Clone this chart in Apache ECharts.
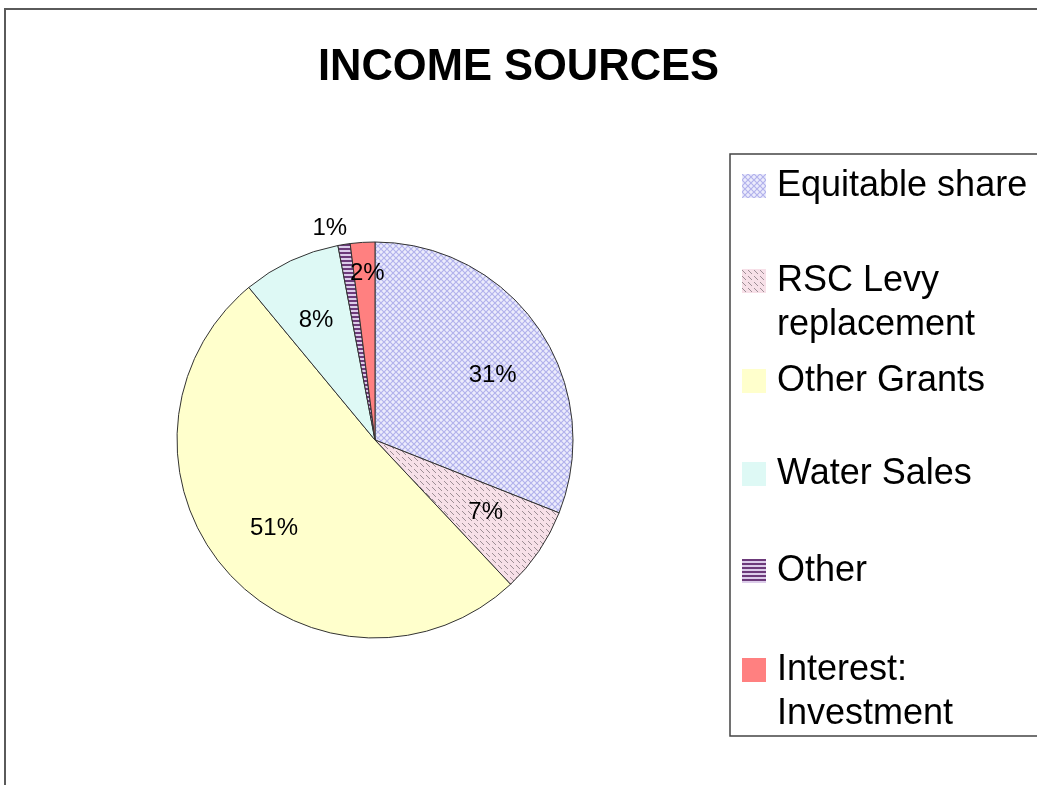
<!DOCTYPE html>
<html>
<head>
<meta charset="utf-8">
<script src="https://cdn.jsdelivr.net/npm/echarts@6/dist/echarts.min.js"></script>
<style>
  html, body { margin: 0; padding: 0; background: #ffffff; }
  #chart { width: 1037px; height: 785px; }
</style>
</head>
<body>
<div id="chart"></div>
<script>
// Income sources, share of total (%)
const categories = [
  'Equitable share',
  'RSC Levy\nreplacement',
  'Other Grants',
  'Water Sales',
  'Other',
  'Interest:\nInvestment'
];
const shares = [31, 7, 51, 8, 1, 2];
const titleText = 'INCOME SOURCES';

const FONT = '"Liberation Sans", Arial, sans-serif';

// small repeating tiles used as slice fills
function tile(w, h, draw) {
  const c = document.createElement('canvas');
  c.width = w; c.height = h;
  draw(c.getContext('2d'), w, h);
  return { image: c, repeat: 'repeat' };
}

const fills = [
  // lavender lattice
  tile(6, 6, (g, w, h) => {
    g.fillStyle = '#ececfc'; g.fillRect(0, 0, w, h);
    g.strokeStyle = '#b2b2ec'; g.lineWidth = 1.2;
    g.beginPath();
    g.moveTo(0, 0); g.lineTo(w, h);
    g.moveTo(w, 0); g.lineTo(0, h);
    g.stroke();
  }),
  // pink with short diagonal dashes
  tile(6, 6, (g, w, h) => {
    g.fillStyle = '#f7e0e8'; g.fillRect(0, 0, w, h);
    g.strokeStyle = '#9d8e95'; g.lineWidth = 1;
    g.beginPath();
    g.moveTo(0, 1); g.lineTo(4, 5);
    g.stroke();
  }),
  '#ffffcc',
  '#def9f5',
  // purple horizontal stripes
  tile(4, 4, (g, w, h) => {
    g.fillStyle = '#dccdea'; g.fillRect(0, 0, w, h);
    g.fillStyle = '#6c3a7a'; g.fillRect(0, 0, w, 2);
  }),
  '#ff8080'
];

const chart = echarts.init(document.getElementById('chart'), null, { renderer: 'canvas' });

const CENTER = [375, 440];
const R = 198;

// small nudges for individual percentage labels [dx, dy]
const labelNudge = [[3, 13], [-4, -6], [3, -3], [0, 6], [10, -4], [1, -28]];

const mainData = categories.map((name, i) => {
  const item = { name: name, value: shares[i], itemStyle: { color: fills[i] } };
  if (shares[i] <= 1) {
    item.label = { show: true, position: 'outside' };
    item.labelLine = { show: false, length: 12, length2: 0 };
  }
  return item;
});

const labelData = categories.map((name, i) => ({
  name: name,
  value: shares[i],
  label: { show: shares[i] > 1 }
}));

function nudge(p) {
  const n = labelNudge[p.dataIndex] || [0, 0];
  return { dx: n[0], dy: n[1] };
}

// legend entries, one block each, inside a framed box
const legendTops = [164, 215, 359, 452, 549, 604];
const legends = categories.map((name, i) => {
  const twoLine = name.indexOf('\n') >= 0;
  return {
    left: 742,
    top: legendTops[i],
    orient: 'vertical',
    padding: 0,
    icon: 'rect',
    itemWidth: 24,
    itemHeight: 24,
    selectedMode: false,
    itemStyle: { borderWidth: 0 },
    // two-line names start level with the swatch
    formatter: twoLine ? (n) => '\n' + n : (n) => n,
    textStyle: { fontFamily: FONT, fontSize: 36, lineHeight: 44, color: '#000', padding: [0, 0, 0, 6] },
    data: [name]
  };
});

chart.setOption({
  backgroundColor: '#ffffff',
  animation: false,
  title: {
    text: titleText,
    left: 'center',
    top: 41,
    textStyle: { fontFamily: FONT, fontSize: 43.5, fontWeight: 'bold', color: '#000' }
  },
  graphic: [
    {
      type: 'rect', silent: true, z: -10,
      shape: { x: 5, y: 9, width: 1200, height: 900 },
      style: { fill: 'none', stroke: '#5a5a5a', lineWidth: 2 }
    },
    {
      type: 'rect', silent: true, z: -10,
      shape: { x: 730, y: 154, width: 400, height: 582 },
      style: { fill: '#ffffff', stroke: '#444444', lineWidth: 1.5 }
    }
  ],
  legend: legends,
  series: [
    {
      type: 'pie',
      center: CENTER,
      radius: R,
      startAngle: 90,
      clockwise: true,
      avoidLabelOverlap: false,
      emphasis: { disabled: true },
      itemStyle: { borderColor: '#333333', borderWidth: 1 },
      label: { show: false, formatter: '{d}%', fontFamily: FONT, fontSize: 24, color: '#000' },
      labelLayout: nudge,
      data: mainData
    },
    {
      // label ring: places the percentage texts two thirds of the way out
      type: 'pie',
      center: CENTER,
      radius: R * 1.37,
      startAngle: 90,
      clockwise: true,
      silent: true,
      legendHoverLink: false,
      avoidLabelOverlap: false,
      emphasis: { disabled: true },
      itemStyle: { color: 'rgba(0,0,0,0)', borderWidth: 0 },
      label: { position: 'inside', formatter: '{d}%', fontFamily: FONT, fontSize: 24, color: '#000' },
      labelLine: { show: false },
      labelLayout: nudge,
      data: labelData
    }
  ]
});
</script>
</body>
</html>
